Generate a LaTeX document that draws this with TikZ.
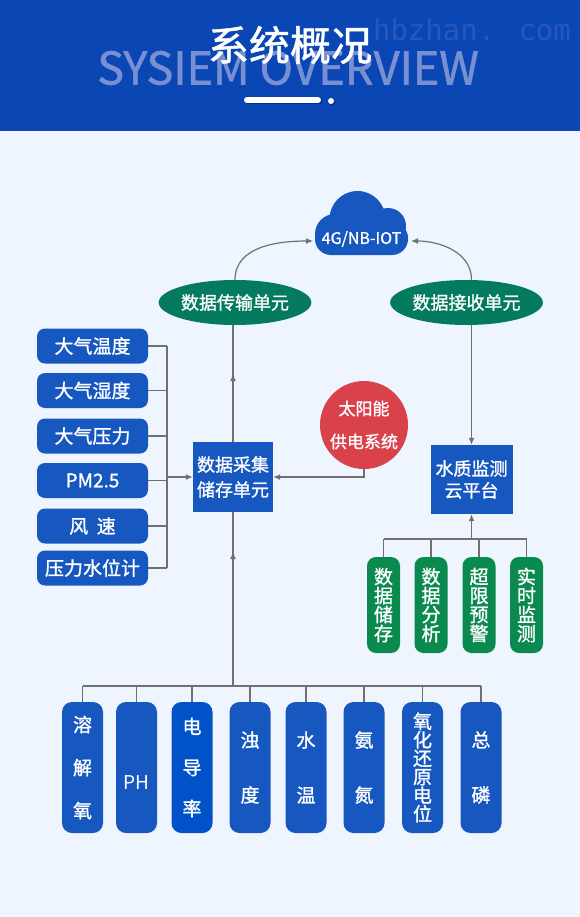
\documentclass[tikz,border=0pt]{standalone}
\usepackage{fontspec}
\newfontfamily\cjk{Noto Sans CJK SC}
\newfontfamily\cjkb[FakeBold=1.2]{Noto Sans CJK SC}
\newfontfamily\wmfont{DejaVu Sans Mono}
\usetikzlibrary{arrows.meta,shapes.geometric}
\definecolor{hdr}{HTML}{0A47B5}
\definecolor{bgc}{HTML}{EEF5FE}
\definecolor{boxblue}{HTML}{1657C0}
\definecolor{boxbright}{HTML}{0052C8}
\definecolor{egreen}{HTML}{047A5E}
\definecolor{ggreen}{HTML}{0B8A50}
\definecolor{sred}{HTML}{D9414B}
\definecolor{lgray}{HTML}{707070}
\definecolor{ovc}{HTML}{7890D2}
\definecolor{wmc}{HTML}{2A58BA}
\tikzset{
  conn/.style={draw=lgray, line width=1.2pt},
  arr/.style={conn, -{Latex[length=7pt,width=6pt]}},
  sensor/.style={rectangle, rounded corners=8pt, fill=boxblue, text=white, minimum width=111pt, minimum height=35pt, inner sep=0pt, font=\cjkb\fontsize{19}{22}\selectfont},
  bigbox/.style={rectangle, fill=boxblue, text=white, inner sep=0pt, align=center},
  ell/.style={ellipse, fill=egreen, text=white, minimum width=134pt, minimum height=45pt, inner sep=0pt, font=\cjkb\fontsize{18}{20}\selectfont},
  wbox/.style={rectangle, rounded corners=10pt, fill=boxblue, text=white, minimum width=41pt, minimum height=131pt, inner sep=0pt, align=center},
  gbox/.style={rectangle, rounded corners=9pt, fill=ggreen, text=white, minimum width=33pt, minimum height=96pt, inner sep=0pt, align=center, font=\cjkb\fontsize{19}{19}\selectfont},
}
\begin{document}
\begin{tikzpicture}[x=1pt,y=-1pt]
\useasboundingbox (0,0) rectangle (580,917);
\fill[bgc] (0,0) rectangle (580,917);
\fill[hdr] (0,0) rectangle (580,131);
% header
\node[text=wmc, font=\wmfont\fontsize{29}{30}\selectfont, anchor=center] (watermark) at (472,30) {hbzhan. com};
\node[text=ovc, font=\cjkb\fontsize{45}{46}\selectfont] (overview) at (288,68) {SYSIEM OVERVIEW};
\node[text=white, font=\cjkb\fontsize{41}{44}\selectfont] (title) at (290,45) {系统概况};
\draw[black, opacity=0.3, line width=6pt, line cap=round] (248.5,101.5) -- (319.5,101.5);
\draw[white, line width=6pt, line cap=round] (247,100) -- (318,100);
\fill[black, opacity=0.3] (332.5,102.5) circle (3pt);
\fill[white] (331,101) circle (3pt);
% cloud
\fill[boxblue] (357.5,219) circle (28pt);
\fill[boxblue] (388,226) circle (18pt);
\fill[boxblue] (335,234) circle (20pt);
\fill[boxblue, rounded corners=16pt] (315,222) rectangle (408,255);
\node[text=white, font=\cjkb\fontsize{16}{18}\selectfont, minimum width=97pt, inner sep=0pt] (cloud) at (361.5,239) {4G/NB-IOT};
% ellipses
\node[ell] (ellL) at (235,302.5) {数据传输单元};
\node[ell] (ellR) at (466.5,302.5) {数据接收单元};
% left sensors
\node[sensor] (s1) at (92.5,346) {大气温度};
\node[sensor] (s2) at (92.5,390.5) {大气湿度};
\node[sensor] (s3) at (92.5,436) {大气压力};
\node[sensor] (s4) at (92.5,480.5) {PM2.5};
\node[sensor] (s5) at (92.5,526) {风\ \ 速};
\node[sensor] (s6) at (92.5,568) {压力水位计};
% collect box
\node[bigbox, minimum width=80pt, minimum height=70pt, font=\cjkb\fontsize{18}{25}\selectfont] (collect) at (233,477) {数据采集\\储存单元};
% solar
\node[circle, fill=sred, text=white, minimum size=88pt, inner sep=0pt, align=center, font=\cjkb\fontsize{17}{33}\selectfont] (solar) at (364,425) {太阳能\\供电系统};
% platform
\node[bigbox, minimum width=82pt, minimum height=69pt, font=\cjkb\fontsize{18}{22}\selectfont] (platform) at (471.5,479.5) {水质监测\\云平台};
% green boxes
\node[gbox] (g1) at (383.5,605) {数\\据\\储\\存};
\node[gbox] (g2) at (431,605) {数\\据\\分\\析};
\node[gbox] (g3) at (479,605) {超\\限\\预\\警};
\node[gbox] (g4) at (526.5,605) {实\\时\\监\\测};
% bottom boxes
\node[wbox, font=\cjkb\fontsize{19}{43}\selectfont] (b1) at (82.5,767.5) {溶\\解\\氧};
\node[wbox, font=\cjk\fontsize{19}{22}\selectfont] (b2) at (136.5,767.5) {\raisebox{-22pt}[0pt][0pt]{PH}};
\node[wbox, fill=boxbright, font=\cjkb\fontsize{19}{41}\selectfont] (b3) at (192,767.5) {电\\导\\率};
\node[wbox, font=\cjkb\fontsize{19}{55}\selectfont] (b4) at (250,767.5) {浊\\度};
\node[wbox, font=\cjkb\fontsize{19}{55}\selectfont] (b5) at (306,767.5) {水\\温};
\node[wbox, font=\cjkb\fontsize{19}{55}\selectfont] (b6) at (364,767.5) {氨\\氮};
\node[wbox, font=\cjkb\fontsize{19}{18.5}\selectfont] (b7) at (422.5,767.5) {氧\\化\\还\\原\\电\\位};
\node[wbox, font=\cjkb\fontsize{19}{55}\selectfont] (b8) at (481,767.5) {总\\磷};
% bus coordinates
\coordinate (lbus) at (167,0);
\coordinate (gbus) at (0,539);
\coordinate (bbus) at (0,686);
\coordinate (cloudL) at (313,241);
\coordinate (cloudR) at (411,241);
\coordinate (midU) at (233,374);
\coordinate (midD) at (233,552);
% connectors: cloud
\draw[arr] (ellL.north) to[out=90,in=180] (cloudL);
\draw[arr] (platform.north |- ellR.north) to[out=90,in=0] (cloudR);
% ellipse to collect / platform
\draw[conn] (collect.north) -- (collect.north |- ellL.south);
\draw[arr] (collect.north) -- (midU);
\draw[arr] (platform.north |- ellR.south) -- (platform.north);
% left sensors
\foreach \i in {1,...,6} { \draw[conn] (s\i.east) -- (s\i.east -| lbus); }
\draw[conn] (s1.east -| lbus) -- (s6.east -| lbus);
\draw[arr] (collect.west -| lbus) -- (collect.west);
% solar
\draw[arr] (solar.south) |- (collect.east);
% green
\foreach \i in {1,...,4} { \draw[conn] (g\i.north) -- (g\i.north |- gbus); }
\draw[conn] (g1.north |- gbus) -- (g4.north |- gbus);
\draw[arr] (platform.south |- gbus) -- (platform.south);
% bottom
\foreach \i in {1,...,8} { \draw[conn] (b\i.north) -- (b\i.north |- bbus); }
\draw[conn] (b1.north |- bbus) -- (b8.north |- bbus);
\draw[conn] (collect.south |- bbus) -- (collect.south);
\draw[arr] (collect.south |- bbus) -- (midD);
\end{tikzpicture}
\end{document}
